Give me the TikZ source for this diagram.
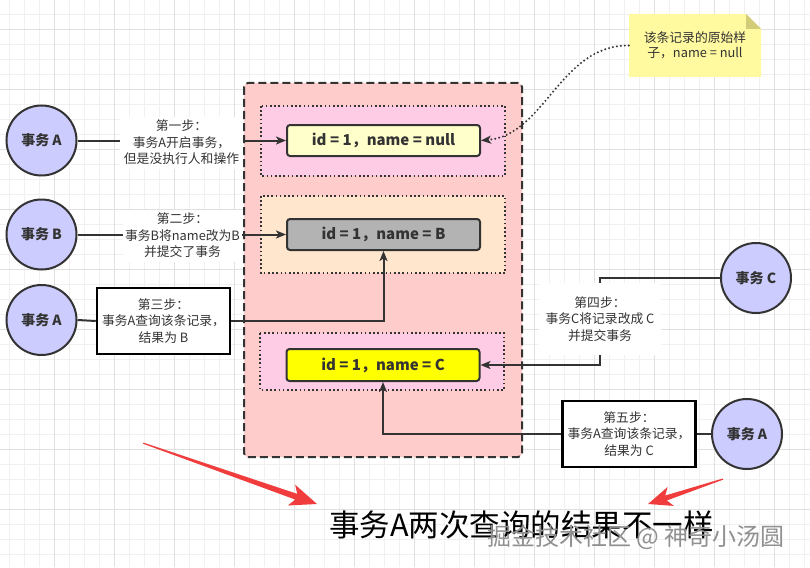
\documentclass[tikz,border=0pt]{standalone}
\usepackage{fontspec}
\setmainfont{Noto Sans CJK SC}
\usetikzlibrary{arrows.meta}
\definecolor{darkline}{HTML}{333333}
\definecolor{darktext}{HTML}{333333}
\definecolor{outerpink}{HTML}{FFCCCC}
\definecolor{innerpink}{HTML}{FFCCE6}
\definecolor{innerpeach}{HTML}{FFE6CC}
\definecolor{lightyellow}{HTML}{FFFFCC}
\definecolor{grayfill}{HTML}{B3B3B3}
\definecolor{brightyellow}{HTML}{FFFF00}
\definecolor{circfill}{HTML}{CCCCFF}
\definecolor{notefill}{HTML}{FFFAA0}
\definecolor{notefold}{HTML}{D2CC78}
\definecolor{redarrow}{HTML}{F03C3C}
\definecolor{gridminorc}{HTML}{F0F0F0}
\definecolor{gridmajorc}{HTML}{E0E0E0}
\definecolor{watermark}{HTML}{909090}
\begin{document}
\begin{tikzpicture}[x=1pt,y=-1pt,
  gridminor/.style={draw=gridminorc, line width=0.8pt},
  gridmajor/.style={draw=gridmajorc, line width=0.8pt},
  circ/.style={circle, draw=darkline, line width=2pt, fill=circfill, minimum size=70pt, inner sep=0pt, font=\fontsize{14}{16}\selectfont\bfseries, text=darktext},
  rec/.style={rectangle, rounded corners=3pt, draw=darkline, line width=2pt, minimum width=193pt, minimum height=31pt, inner sep=0pt, font=\fontsize{15}{17}\selectfont\bfseries, text=darktext},
  container/.style={draw=darkline, line width=1.6pt, dash pattern=on 1.6pt off 2.6pt},
  outerbox/.style={draw=darkline, fill=outerpink, line width=2pt, dash pattern=on 8pt off 4pt, rounded corners=4pt},
  conn/.style={draw=darkline, line width=2pt, -{Stealth[length=10pt,width=8pt,inset=2.5pt]}},
  dotconn/.style={draw=darkline, line width=2.2pt, line cap=round, dash pattern=on 0pt off 4pt, -{Stealth[length=10pt,width=8pt,inset=2.5pt]}},
  plainconn/.style={draw=darkline, line width=2pt},
  steplabel/.style={fill=white, align=center, font=\fontsize{12.8}{16.5}\selectfont, text=darktext, inner sep=0pt},
  stepbox/.style={draw=black, line width=2.5pt, fill=white, align=center, minimum width=133pt, minimum height=66pt, inner sep=0pt, font=\fontsize{12.8}{16.5}\selectfont, text=darktext},
  notetext/.style={align=center, minimum width=132pt, minimum height=63pt, inner sep=0pt, font=\fontsize{12.8}{15}\selectfont, text=darktext},
  redarr/.style={fill=redarrow, draw=none},
]
\useasboundingbox (0,0) rectangle (810,567);
\fill[white] (0,0) rectangle (810,567);
% grid
\foreach \x in {9,24,...,809} \draw[gridminor] (\x,0) -- (\x,567);
\foreach \y in {14,29,...,566} \draw[gridminor] (0,\y) -- (810,\y);
\foreach \x in {54,114,...,809} \draw[gridmajor] (\x,0) -- (\x,567);
\foreach \y in {29,89,...,566} \draw[gridmajor] (0,\y) -- (810,\y);

% outer container and inner groups
\draw[outerbox] (244,83) rectangle (522,457);
\draw[container, fill=innerpink] (261,106) rectangle (505,176);
\draw[container, fill=innerpeach] (261,196) rectangle (505,273);
\draw[container, fill=innerpink] (260,333) rectangle (504,390);

% records
\node[rec, fill=lightyellow] (nNull) at (383.5,140.5) {id = 1，name = null};
\node[rec, fill=grayfill] (nB) at (383.5,234.5) {id = 1，name = B};
\node[rec, fill=brightyellow, minimum height=32pt] (nC) at (383,365) {id = 1，name = C};

% transactions
\node[circ] (cA1) at (41.5,140.5) {事务 A};
\node[circ] (cB) at (41.5,234.5) {事务 B};
\node[circ] (cA3) at (41.5,320) {事务 A};
\node[circ] (cC) at (756,278) {事务 C};
\node[circ] (cA5) at (747,434) {事务 A};

% step 1
\draw[conn] (cA1.east) -- (nNull.west);
\node[steplabel, minimum width=123pt, minimum height=52pt] (s1) at (181.5,142.5) {第一步：\\事务A开启事务，\\但是没执行人和操作};
% step 2
\draw[conn] (cB.east) -- (nB.west);
\node[steplabel, minimum width=119pt, minimum height=52pt] (s2) at (182.5,235.5) {第二步：\\事务B将name改为B\\并提交了事务};
% step 3
\node[stepbox] (b3) at (163.5,321) {第三步：\\事务A查询该条记录，\\结果为 B};
\draw[plainconn] (cA3.east) -- (b3.west);
\draw[conn] (b3.east) -| (nB.south);
% step 4
\coordinate (k4) at (600,319);
\draw[conn] (cC.west) -| (k4) |- (nC.east);
\node[steplabel, minimum width=122pt, minimum height=72pt] (s4) at (k4) {第四步：\\事务C将记录改成 C\\并提交事务};
% step 5
\node[stepbox] (b5) at (629,434) {第五步：\\事务A查询该条记录，\\结果为 C};
\draw[plainconn] (cA5.west) -- (b5.east);
\draw[conn] (b5.west) -| (nC.south);

% note
\fill[notefill] (629,14) -- (746,14) -- (761,29) -- (761,77) -- (629,77) -- cycle;
\fill[notefold] (746,14) -- (746,29) -- (761,29) -- cycle;
\node[notetext] (note) at (695,45.5) {该条记录的原始样\\子，name = null};
\draw[dotconn] (note.west) .. controls (560,45) and (545,135) .. (nNull.east);

% red arrows
\begin{scope}[shift={(317,504)}, rotate=-19.3]
  \fill[redarr] (0,0) -- (-27,11) -- (-22,3) -- (-184,0.6) -- (-184,-0.6) -- (-22,-3) -- (-27,-11) -- cycle;
\end{scope}
\begin{scope}[shift={(648,504)}, rotate=198.4]
  \fill[redarr] (0,0) -- (-24,10) -- (-19,2.6) -- (-79,0.6) -- (-79,-0.6) -- (-19,-2.6) -- (-24,-10) -- cycle;
\end{scope}

% conclusion
\node[font=\fontsize{30.5}{34}\selectfont, text=black, inner sep=0pt] (concl) at (521.5,525) {事务A两次查询的结果不一样};
\node[font=\fontsize{24}{28}\selectfont, text=watermark, inner sep=0pt] (wm) at (636,537) {掘金技术社区 @ 神奇小汤圆};
\end{tikzpicture}
\end{document}
